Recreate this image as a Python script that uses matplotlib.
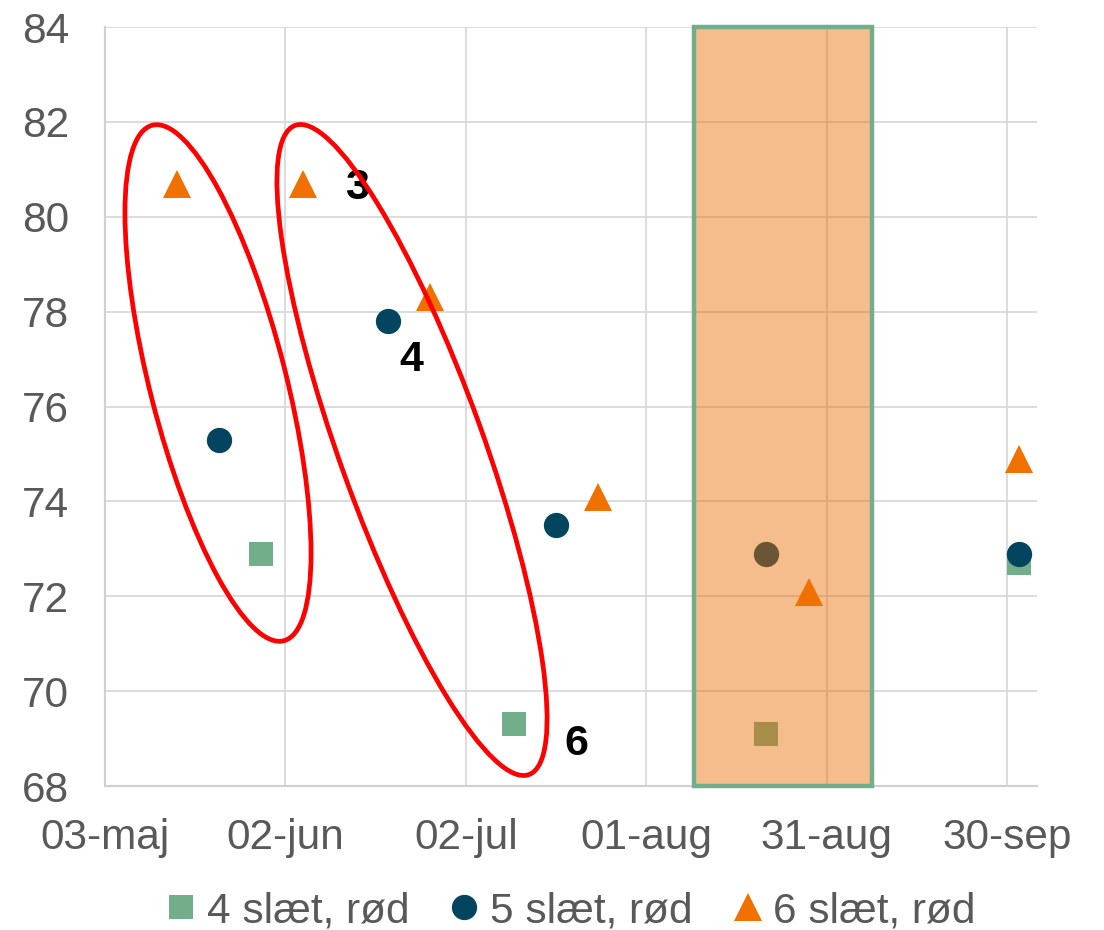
import matplotlib.pyplot as plt
import pandas as pd
from matplotlib.patches import Ellipse

plt.rcParams['font.family'] = ['Liberation Sans', 'DejaVu Sans']

# fordøjelighed (pct.) pr. høstdato for rødkløver ved 4, 5 og 6 slæt
dato_4 = ["2021-05-29", "2021-07-10", "2021-08-21", "2021-10-02"]
fk_4 = [72.9, 69.3, 69.1, 72.7]
dato_5 = ["2021-05-22", "2021-06-19", "2021-07-17", "2021-08-21", "2021-10-02"]
fk_5 = [75.3, 77.8, 73.5, 72.9, 72.9]
dato_6 = ["2021-05-15", "2021-06-05", "2021-06-26", "2021-07-24", "2021-08-28", "2021-10-02"]
fk_6 = [80.7, 80.7, 78.3, 74.1, 72.1, 74.9]

tick_datoer = ["2021-05-03", "2021-06-02", "2021-07-02", "2021-08-01", "2021-08-31", "2021-09-30"]
tick_tekst = ["03-maj", "02-jun", "02-jul", "01-aug", "31-aug", "30-sep"]
y_ticks = [68, 70, 72, 74, 76, 78, 80, 82, 84]

# tørkeperiode
periode = ["2021-08-09", "2021-09-07 12:00"]

# slætnumre skrevet ved udvalgte punkter: (serie, indeks, tekst, forskydning i px)
numre = [(6, 1, "3", (54, -4)), (5, 1, "4", (24, -39)), (4, 1, "6", (62, -20))]

d4 = pd.to_datetime(dato_4)
d5 = pd.to_datetime(dato_5)
d6 = pd.to_datetime(dato_6)

fig = plt.figure(figsize=(11.04, 9.30), dpi=100)
ax = fig.add_axes([105 / 1104, 144 / 930, 932 / 1104, 759 / 930])

gron = '#72AE8A'
bla = '#03455F'
orange = '#F07000'
tekstgra = '#595959'

ax.plot(d4, fk_4, linestyle='none', marker='s', markersize=16.6, markeredgewidth=0,
        color=gron, label='4 slæt, rød', zorder=3)
ax.plot(d5, fk_5, linestyle='none', marker='o', markersize=18.2, markeredgewidth=0,
        color=bla, label='5 slæt, rød', zorder=3)
ax.plot(d6, fk_6, linestyle='none', marker='^', markersize=20, markeredgewidth=0,
        color=orange, label='6 slæt, rød', zorder=5)

ax.axvspan(pd.Timestamp(periode[0]), pd.Timestamp(periode[1]), ymin=0, ymax=1,
           facecolor=(233 / 255, 107 / 255, 0, 0.45), edgecolor=gron, linewidth=3.2,
           zorder=4, clip_on=False)

serier = {4: (d4, fk_4), 5: (d5, fk_5), 6: (d6, fk_6)}
for s, i, txt, off in numre:
    xs, ys = serier[s]
    ax.annotate(txt, xy=(xs[i], ys[i]), xytext=off, textcoords='offset pixels',
                ha='center', va='center', fontsize=31, fontweight='bold',
                color='black', zorder=6)

ax.set_xlim(pd.Timestamp("2021-05-03"), pd.Timestamp("2021-10-05"))
ax.set_ylim(68, 84)
ax.set_xticks(pd.to_datetime(tick_datoer))
ax.set_xticklabels(tick_tekst)
ax.set_yticks(y_ticks)
ax.tick_params(axis='both', length=0, labelsize=30.5, labelcolor=tekstgra)
ax.tick_params(axis='x', pad=23)
ax.tick_params(axis='y', pad=26)
ax.grid(True, color='#D9D9D9', linewidth=1.3, zorder=0)
ax.set_axisbelow(True)
for side in ['top', 'right']:
    ax.spines[side].set_visible(False)
for side in ['left', 'bottom']:
    ax.spines[side].set_color('#D0D0D0')
    ax.spines[side].set_linewidth(1.5)

fig.legend(loc='center', bbox_to_anchor=(572 / 1104, 19 / 930), ncol=3, frameon=False,
           fontsize=30.5, labelcolor=tekstgra, handlelength=0.6, handletextpad=0.3,
           columnspacing=1.0, numpoints=1, borderpad=0, borderaxespad=0)

# røde ringe om slætgrupperne, tegnet i pixel
ov = fig.add_axes([0, 0, 1, 1], zorder=10)
ov.set_xlim(0, 1104)
ov.set_ylim(930, 0)
ov.axis('off')
ov.patch.set_alpha(0)
ringe = [((218, 383), 68, 266, 14.3), ((412, 450), 72, 345, 19.8)]
for (cx, cy), b, a, vinkel in ringe:
    ov.add_patch(Ellipse((cx, cy), width=2 * b, height=2 * a, angle=-vinkel,
                         fill=False, edgecolor='#FF0000', linewidth=3.4))

fig.savefig('out.png', dpi=100)
